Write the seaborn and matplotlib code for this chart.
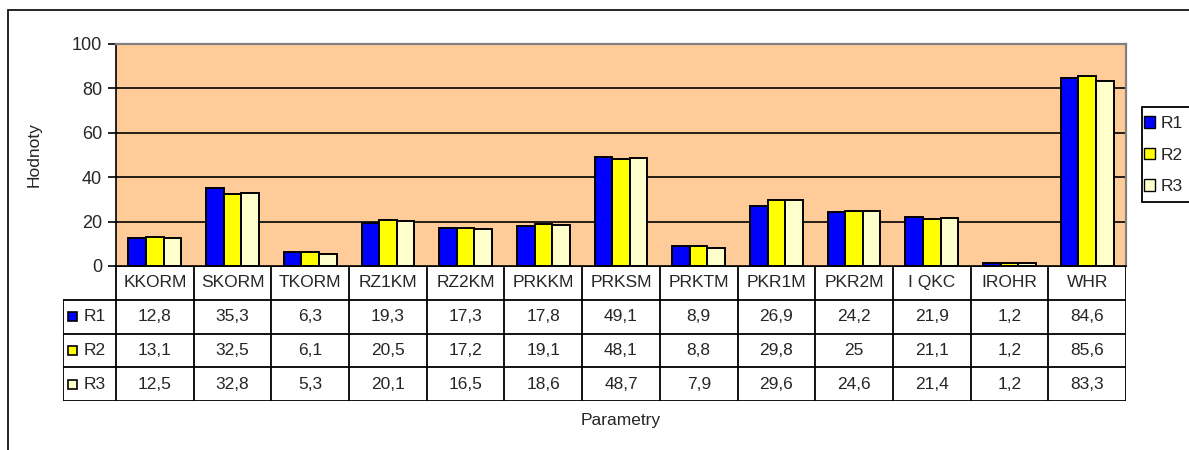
import matplotlib
matplotlib.use("Agg")
import matplotlib.pyplot as plt
from matplotlib.patches import Rectangle, Patch
import pandas as pd
import seaborn as sns

# Parameters and measured values for three runs
parametry = ["KKORM", "SKORM", "TKORM", "RZ1KM", "RZ2KM", "PRKKM", "PRKSM",
             "PRKTM", "PKR1M", "PKR2M", "I QKC", "IROHR", "WHR"]
r1 = [12.8, 35.3, 6.3, 19.3, 17.3, 17.8, 49.1, 8.9, 26.9, 24.2, 21.9, 1.2, 84.6]
r2 = [13.1, 32.5, 6.1, 20.5, 17.2, 19.1, 48.1, 8.8, 29.8, 25.0, 21.1, 1.2, 85.6]
r3 = [12.5, 32.8, 5.3, 20.1, 16.5, 18.6, 48.7, 7.9, 29.6, 24.6, 21.4, 1.2, 83.3]
rady = ["R1", "R2", "R3"]
barvy = {"R1": "#0000FF", "R2": "#FFFF00", "R3": "#FFFFCC"}
y_ticks = [0, 20, 40, 60, 80, 100]

def fmt(v):
    s = f"{v:.1f}".replace(".", ",")
    return s[:-2] if s.endswith(",0") else s

df = pd.DataFrame({
    "Parametr": parametry * 3,
    "Hodnota": r1 + r2 + r3,
    "Rada": ["R1"] * 13 + ["R2"] * 13 + ["R3"] * 13,
})

sns.set_theme(style="white")
plt.rcParams["font.family"] = ["Liberation Sans", "DejaVu Sans"]
FS = 12.5

W, H = 1189, 450
fig = plt.figure(figsize=(W / 100, H / 100), dpi=100)

# outer frame of the chart object
fig.patches.append(Rectangle((8 / W, -0.1), 1.2, 1 - 10 / H + 0.1,
                             transform=fig.transFigure, fill=False,
                             edgecolor="black", linewidth=1.2, zorder=0))

L, R, T, B = 116, 1126, 44, 266
ax = fig.add_axes([L / W, 1 - B / H, (R - L) / W, (B - T) / H])
ax.set_facecolor("#FFCC99")

sns.barplot(data=df, x="Parametr", y="Hodnota", hue="Rada", palette=barvy,
            hue_order=rady, order=parametry, saturation=1, width=0.68, gap=0,
            edgecolor="black", linewidth=1.4, legend=False, ax=ax, zorder=3)

ax.set_ylim(0, 100)
ax.set_xlim(-0.5, len(parametry) - 0.5)
ax.set_yticks(y_ticks)
ax.set_yticklabels([str(t) for t in y_ticks], fontsize=13)
for t in y_ticks[1:-1]:
    ax.axhline(t, color="black", linewidth=1.2, zorder=1)
ax.set_xticks([])
ax.set_xlabel("")
ax.set_ylabel("Hodnoty", fontsize=FS, labelpad=0)
ax.yaxis.set_label_coords(-(L - 42) / (R - L), 0.5)
ax.tick_params(axis="y", direction="out", length=6, width=1.2, color="black",
               left=True, pad=4)
for side in ["top", "right"]:
    ax.spines[side].set_color("#808080")
    ax.spines[side].set_linewidth(1.6)
for side in ["left", "bottom"]:
    ax.spines[side].set_color("black")
    ax.spines[side].set_linewidth(1.2)

# data table under the plot
TL, TB = 63, 401
tax = fig.add_axes([TL / W, 1 - TB / H, (R - TL) / W, (TB - B) / H])
tax.axis("off")
col_w = (R - L) / len(parametry)
x0 = -0.5 - (L - TL) / col_w
xe = len(parametry) - 0.5
tax.set_xlim(x0, xe)
tax.set_ylim(4, 0)
lw = 1.3
for yy in range(0, 5):
    tax.plot([x0 if yy > 0 else -0.5, xe], [yy, yy], color="black", lw=lw,
             solid_capstyle="projecting")
tax.plot([x0, x0], [1, 4], color="black", lw=lw)
for k in range(len(parametry) + 1):
    tax.plot([k - 0.5, k - 0.5], [0, 4], color="black", lw=lw)
for i, p in enumerate(parametry):
    tax.text(i, 0.5, p, ha="center", va="center", fontsize=FS)
row_h = (TB - B) / 4
for r, (name, vals) in enumerate(zip(rady, [r1, r2, r3])):
    yc = r + 1.5
    sw, sh = 9 / col_w, 9 / row_h
    tax.add_patch(Rectangle((x0 + 5 / col_w, yc - sh / 2), sw, sh,
                            facecolor=barvy[name], edgecolor="black", lw=1.2))
    tax.text(x0 + 21 / col_w, yc, name, ha="left", va="center", fontsize=FS)
    for i, v in enumerate(vals):
        tax.text(i, yc, fmt(v), ha="center", va="center", fontsize=FS)

fig.text((L + R) / 2 / W, 1 - 420 / H, "Parametry", ha="center", va="center",
         fontsize=FS)

# legend box at the right edge
fig.patches.append(Rectangle((1142 / W, 1 - 202 / H), 0.2, 95 / H,
                             transform=fig.transFigure, facecolor="white",
                             edgecolor="black", linewidth=1.3, zorder=1))
handles = [Patch(facecolor=barvy[n], edgecolor="black", label=n) for n in rady]
leg = fig.legend(handles=handles, loc="center left",
                 bbox_to_anchor=(1144 / W, 1 - 155 / H), fontsize=FS,
                 frameon=False, handlelength=0.65, handleheight=0.65,
                 handletextpad=0.3, borderpad=0, labelspacing=0.95,
                 borderaxespad=0)

fig.savefig("out.png", dpi=100, facecolor="white")
